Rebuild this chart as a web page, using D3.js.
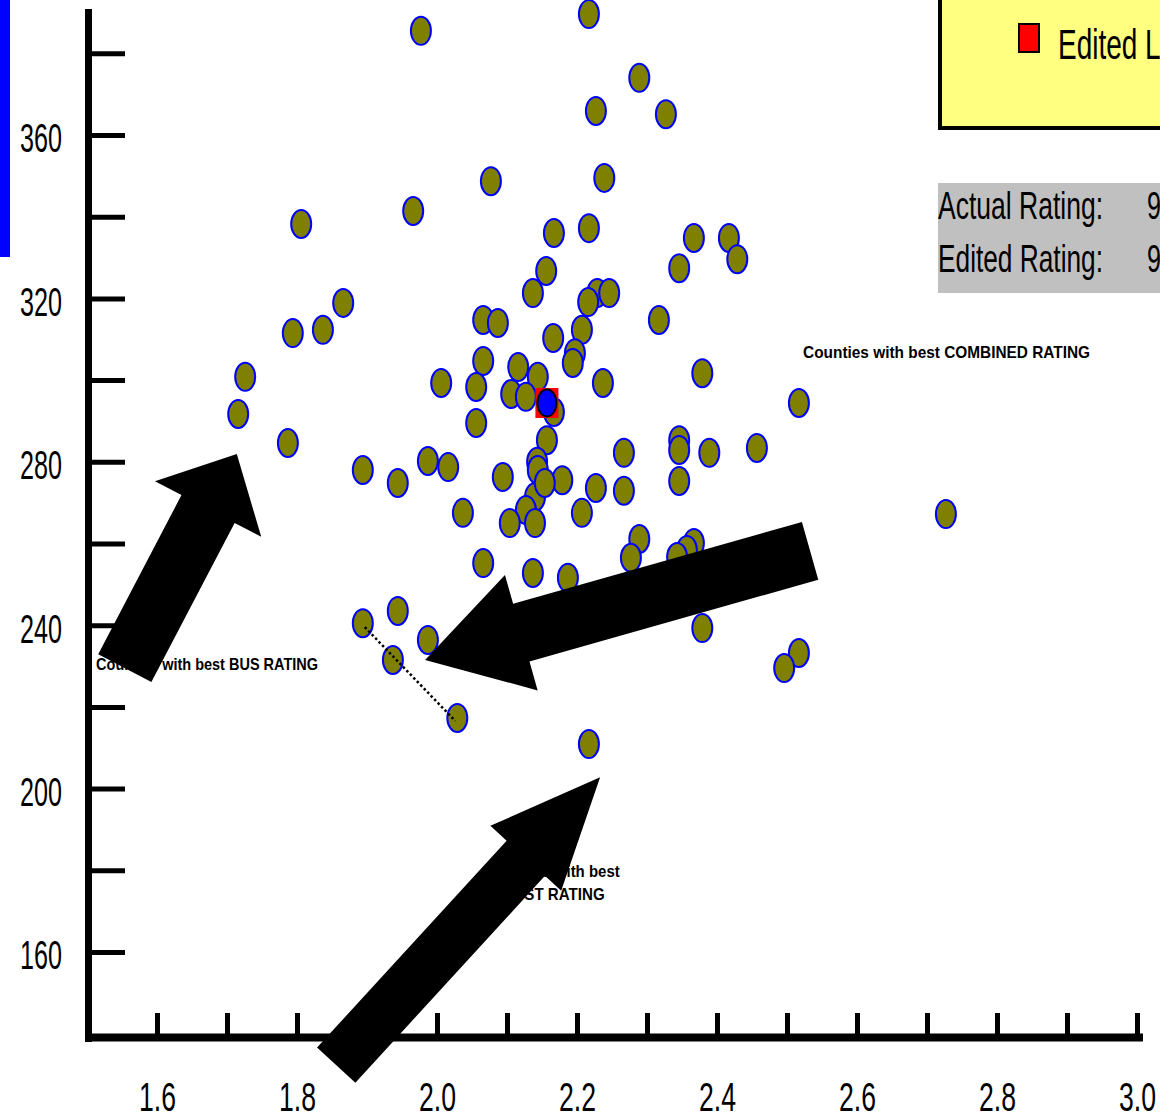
<!DOCTYPE html>
<html>
<head>
<meta charset="utf-8">
<script src="https://cdn.jsdelivr.net/npm/d3@7"></script>
<style>
  html, body { margin: 0; padding: 0; background: #fff; }
  svg { display: block; }
</style>
</head>
<body>
<svg id="chart"></svg>
<script>
// rating values
const xValues = [1.977, 2.217, 2.227, 2.289, 2.327, 2.077, 2.239, 1.966, 1.806, 2.167,
  2.217, 2.367, 2.417, 2.429, 2.346, 2.156, 2.137, 2.229, 2.246, 2.216,
  1.866, 1.837, 1.794, 2.066, 2.087, 2.317, 2.207, 2.166, 2.197, 2.194,
  2.066, 2.116, 2.379, 1.726, 2.006, 2.056, 2.144, 2.237, 2.106, 2.127,
  2.167, 1.716, 2.517, 2.056, 2.157, 2.346, 2.346, 1.787, 2.457, 2.389,
  2.267, 1.894, 1.987, 2.016, 2.143, 2.144, 2.094, 2.179, 1.944, 2.227,
  2.267, 2.346, 2.140, 2.154, 2.037, 2.127, 2.207, 2.104, 2.140, 2.727,
  2.289, 2.277, 2.367, 2.357, 2.343, 2.066, 2.137, 2.187, 1.944, 1.894,
  1.987, 1.937, 2.029, 2.379, 2.217, 2.517, 2.496];
const yValues = [385.5, 389.6, 365.9, 374.0, 365.1, 348.7, 349.5, 341.4, 338.2, 336.0,
  337.2, 334.8, 334.8, 329.6, 327.4, 326.7, 321.3, 321.3, 321.3, 319.1,
  318.9, 312.3, 311.5, 314.7, 314.0, 314.7, 312.3, 310.3, 306.6, 304.2,
  304.7, 303.2, 301.7, 300.8, 299.3, 298.3, 300.8, 299.3, 296.6, 295.9,
  292.2, 291.7, 294.4, 289.5, 285.3, 285.3, 282.9, 284.6, 283.4, 282.2,
  282.2, 278.0, 280.2, 278.7, 280.0, 278.0, 276.3, 275.5, 274.8, 273.6,
  272.9, 275.3, 271.4, 274.8, 267.5, 268.2, 267.5, 265.0, 265.0, 267.2,
  261.1, 256.5, 260.1, 258.4, 256.7, 255.2, 252.8, 251.6, 243.5, 240.5,
  236.4, 231.5, 217.3, 239.3, 210.9, 233.2, 229.5];
const editedPoint = [2.157, 294.4];
const linkIdx = [79, 82];

const xMajor = [1.6, 1.8, 2.0, 2.2, 2.4, 2.6, 2.8, 3.0];
const xMinor = [1.7, 1.9, 2.1, 2.3, 2.5, 2.7, 2.9];
const yMajor = [160, 200, 240, 280, 320, 360];
const yMinor = [180, 220, 260, 300, 340, 380];

const width = 1160, height = 1119;
const svg = d3.select("#chart").attr("width", width).attr("height", height);

const x = d3.scaleLinear().domain([1.5, 3.0]).range([87, 1137]);
const y = d3.scaleLinear().domain([160, 360]).range([952, 135]);

const pixFont = "'Liberation Sans', Arial, sans-serif";

// blue bar at the far left
svg.append("rect").attr("x", 0).attr("y", 0).attr("width", 10).attr("height", 257).attr("fill", "#0000ff");

// axes
const axisX0 = 88.5, axisY0 = 1037.5;
const yAxis = svg.append("g").attr("transform", `translate(${axisX0},0)`);
yAxis.call(d3.axisLeft(y).tickValues(yMajor).tickSize(-36.5).tickPadding(26.5).tickFormat(d3.format("d")));
yAxis.append("g").call(d3.axisLeft(y).tickValues(yMinor).tickSize(-36.5).tickFormat(""));
yAxis.selectAll(".domain").remove();
yAxis.selectAll(".tick line").attr("stroke", "#000").attr("stroke-width", 5);
yAxis.selectAll(".tick text")
  .attr("font-family", pixFont).attr("font-size", 40).attr("fill", "#000")
  .attr("dy", "0.42em")
  .attr("textLength", 42).attr("lengthAdjust", "spacingAndGlyphs");

const xAxis = svg.append("g").attr("transform", `translate(0,${axisY0})`);
xAxis.call(d3.axisBottom(x).tickValues(xMajor).tickSize(-24.5).tickPadding(45).tickFormat(d3.format(".1f")));
xAxis.append("g").call(d3.axisBottom(x).tickValues(xMinor).tickSize(-24.5).tickFormat(""));
xAxis.selectAll(".domain").remove();
xAxis.selectAll(".tick line").attr("stroke", "#000").attr("stroke-width", 5);
xAxis.selectAll(".tick text")
  .attr("font-family", pixFont).attr("font-size", 40).attr("fill", "#000")
  .attr("textLength", 37).attr("lengthAdjust", "spacingAndGlyphs");

svg.append("line").attr("x1", axisX0).attr("x2", axisX0).attr("y1", 9).attr("y2", 1042)
  .attr("stroke", "#000").attr("stroke-width", 7);
svg.append("line").attr("x1", 85).attr("x2", 1143).attr("y1", axisY0).attr("y2", axisY0)
  .attr("stroke", "#000").attr("stroke-width", 8);

// points
const points = xValues.map((v, i) => ({ x: v, y: yValues[i] }));
svg.append("g").selectAll("ellipse")
  .data(points)
  .join("ellipse")
  .attr("cx", d => x(d.x))
  .attr("cy", d => y(d.y))
  .attr("rx", 10).attr("ry", 14)
  .attr("fill", "#808000")
  .attr("stroke", "#0000ff")
  .attr("stroke-width", 2);

// dotted link between two counties
const a = points[linkIdx[0]], b = points[linkIdx[1]];
svg.append("line")
  .attr("x1", x(a.x) + 2).attr("y1", y(a.y) + 4)
  .attr("x2", x(b.x) - 2).attr("y2", y(b.y) + 3)
  .attr("stroke", "#000").attr("stroke-width", 2.5).attr("stroke-dasharray", "2.5,2.5");

// edited point
svg.append("rect")
  .attr("x", x(editedPoint[0]) - 11.5).attr("y", y(editedPoint[1]) - 15)
  .attr("width", 23).attr("height", 30).attr("fill", "#ff0000");
svg.append("ellipse")
  .attr("cx", x(editedPoint[0])).attr("cy", y(editedPoint[1]))
  .attr("rx", 9.5).attr("ry", 13.5)
  .attr("fill", "#0000ff").attr("stroke", "#000").attr("stroke-width", 2);

// annotation texts
const notes = [
  { text: "Counties with best COMBINED RATING", x: 2.523, y: 305.4, anchor: "start", len: 287 },
  { text: "Counties with best BUS RATING", x: 1.513, y: 229.0, anchor: "start", len: 222 },
  { text: "Counties with best", x: 2.166, y: 178.4, anchor: "middle", len: 133 },
  { text: "COST RATING", x: 2.166, y: 172.7, anchor: "middle", len: 103 }
];
svg.append("g").selectAll("text")
  .data(notes)
  .join("text")
  .attr("x", d => x(d.x))
  .attr("y", d => y(d.y))
  .attr("text-anchor", d => d.anchor)
  .attr("font-family", "'Liberation Sans', Arial, sans-serif")
  .attr("font-weight", "bold")
  .attr("font-size", 17)
  .attr("textLength", d => d.len)
  .attr("lengthAdjust", "spacingAndGlyphs")
  .text(d => d.text);

// big block arrows
const arrows = [
  { tail: [1.554, 229.5], tip: [1.714, 281.9], w: 30, hw: 60, hl: 62 },
  { tail: [2.533, 258.2], tip: [1.983, 231.5], w: 30, hw: 60, hl: 100 },
  { tail: [1.856, 132.3], tip: [2.233, 202.8], w: 26, hw: 48, hl: 110 }
];
function arrowPath(d) {
  const T = [x(d.tail[0]), y(d.tail[1])], P = [x(d.tip[0]), y(d.tip[1])];
  const len = Math.hypot(P[0] - T[0], P[1] - T[1]);
  const u = [(P[0] - T[0]) / len, (P[1] - T[1]) / len];
  const n = [-u[1], u[0]];
  const B = [P[0] - u[0] * d.hl, P[1] - u[1] * d.hl];
  const pt = (o, k) => [o[0] + n[0] * k, o[1] + n[1] * k];
  return d3.line()([pt(T, d.w), pt(B, d.w), pt(B, d.hw), P, pt(B, -d.hw), pt(B, -d.w), pt(T, -d.w)]) + "Z";
}
svg.append("g").selectAll("path")
  .data(arrows)
  .join("path")
  .attr("d", arrowPath)
  .attr("fill", "#000");

// legend box (top right)
svg.append("rect").attr("x", 940).attr("y", -10).attr("width", 300).attr("height", 138)
  .attr("fill", "#ffff80").attr("stroke", "#000").attr("stroke-width", 4);
svg.append("rect").attr("x", 1019).attr("y", 24).attr("width", 20).attr("height", 28)
  .attr("fill", "#ff0000").attr("stroke", "#000").attr("stroke-width", 2);
svg.append("text").attr("x", 1058).attr("y", 59)
  .attr("font-family", pixFont).attr("font-size", 42)
  .attr("textLength", 140).attr("lengthAdjust", "spacingAndGlyphs")
  .text("Edited LEA");

// rating box
svg.append("rect").attr("x", 938).attr("y", 183).attr("width", 240).attr("height", 110).attr("fill", "#c0c0c0");
const ratingRows = [
  { label: "Actual Rating:", value: "9", y: 219 },
  { label: "Edited Rating:", value: "9", y: 272 }
];
ratingRows.forEach(r => {
  svg.append("text").attr("x", 938).attr("y", r.y)
    .attr("font-family", pixFont).attr("font-size", 39)
    .attr("textLength", 165).attr("lengthAdjust", "spacingAndGlyphs")
    .text(r.label);
  svg.append("text").attr("x", 1147).attr("y", r.y)
    .attr("font-family", pixFont).attr("font-size", 39)
    .attr("textLength", 14).attr("lengthAdjust", "spacingAndGlyphs")
    .text(r.value);
});
</script>
</body>
</html>
